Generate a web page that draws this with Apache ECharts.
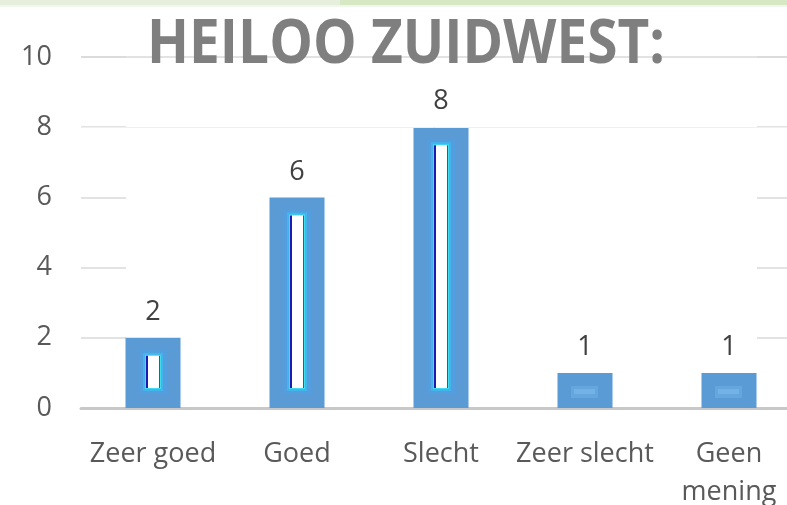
<!DOCTYPE html>
<html>
<head>
<meta charset="utf-8">
<script src="https://cdn.jsdelivr.net/npm/echarts@6/dist/echarts.min.js"></script>
<style>
html,body{margin:0;padding:0;background:#fff;}
#c{width:787px;height:505px;}
</style>
</head>
<body>
<div id="c"></div>
<script>
const titleText = 'HEILOO ZUIDWEST:';
const categories = ['Zeer goed', 'Goed', 'Slecht', 'Zeer slecht', 'Geen\nmening'];
const values = [2, 6, 8, 1, 1];
const yMin = 0, yMax = 10, yStep = 2;

const chart = echarts.init(document.getElementById('c'), null, {renderer: 'canvas'});

// measure title to fit target width
const mc = document.createElement('canvas').getContext('2d');
mc.font = 'bold 60px "Open Sans"';
const tw = mc.measureText(titleText).width;
const titleScale = 518 / tw;

function renderItem(params, api) {
  const i = api.value(0), v = api.value(1);
  const top = api.coord([i, v]);
  const base = api.coord([i, 0]);
  const cx = top[0];
  if (v >= 2) {
    const t = top[1] + 18, b = base[1] - 20;
    const hh = b - t;
    return {type: 'group', children: [
      {type: 'rect', shape: {x: cx - 14, y: t - 6, width: 28, height: hh + 12}, style: {fill: 'rgba(75,160,230,0.55)'}},
      {type: 'rect', shape: {x: cx - 10, y: t - 3, width: 20, height: hh + 6}, style: {fill: '#45b4ec'}},
      {type: 'rect', shape: {x: cx - 8, y: t - 1, width: 16, height: hh + 2}, style: {fill: '#3fdcf4'}},
      {type: 'rect', shape: {x: cx - 7, y: t, width: 14, height: hh}, style: {fill: '#ffffff'}},
      {type: 'rect', shape: {x: cx - 7, y: t, width: 2, height: hh}, style: {fill: '#1c1cb4'}},
      {type: 'rect', shape: {x: cx + 6, y: t, width: 1, height: hh}, style: {fill: '#1f6a78'}}
    ]};
  }
  const yb = base[1];
  return {type: 'group', children: [
    {type: 'rect', shape: {x: cx - 14, y: yb - 22, width: 27, height: 12}, style: {fill: 'rgba(110,175,232,0.55)'}},
    {type: 'rect', shape: {x: cx - 11, y: yb - 19, width: 21, height: 5}, style: {fill: 'rgba(130,190,240,0.5)'}}
  ]};
}

const gridGrad = new echarts.graphic.LinearGradient(81, 0, 787, 0, [
  {offset: 0, color: '#d9d9d9'},
  {offset: 0.0637, color: '#d9d9d9'},
  {offset: 0.0638, color: 'rgba(255,255,255,0)'},
  {offset: 0.9574, color: 'rgba(255,255,255,0)'},
  {offset: 0.9575, color: '#d9d9d9'},
  {offset: 1, color: '#d9d9d9'}
], true);

chart.setOption({
  animation: false,
  backgroundColor: '#ffffff',
  textStyle: {fontFamily: '"Open Sans", sans-serif'},
  grid: {left: 81, top: 57, bottom: 97, width: 720, containLabel: false, outerBoundsMode: 'none'},
  xAxis: {
    type: 'category',
    data: categories,
    axisLine: {show: true, lineStyle: {color: '#c8c8c8', width: 3}},
    axisTick: {show: false},
    axisLabel: {color: '#595959', fontSize: 27, margin: 27, lineHeight: 38, interval: 0, fontFamily: '"Open Sans"'},
    splitLine: {show: false}
  },
  yAxis: {
    type: 'value',
    min: yMin, max: yMax, interval: yStep,
    axisLine: {show: false},
    axisTick: {show: false},
    axisLabel: {color: '#595959', fontSize: 27, margin: 29, fontFamily: '"Open Sans"'},
    splitLine: {show: true, lineStyle: {color: gridGrad, width: 1.5}}
  },
  graphic: [
    {type: 'rect', shape: {x: 0, y: 0, width: 340, height: 5}, style: {fill: '#e5efdb'}, z: 100},
    {type: 'rect', shape: {x: 340, y: 0, width: 447, height: 5}, style: {fill: '#d7e8c4'}, z: 100},
    {type: 'rect', shape: {x: 0, y: 5, width: 787, height: 2}, style: {fill: '#f2f7ee'}, z: 100},
    {
      type: 'text', x: 406, y: 46, scaleX: titleScale, z: 100,
      style: {text: titleText, fill: '#7f7f7f', fontSize: 60, fontWeight: 'bold', fontFamily: '"Open Sans"', align: 'center', verticalAlign: 'middle'}
    }
  ],
  series: [
    {
      type: 'line', data: [], z: 1, silent: true,
      markLine: {silent: true, symbol: 'none', label: {show: false},
        data: [
          {yAxis: 10, lineStyle: {color: '#d9d9d9', width: 1.5, type: 'solid'}},
          {yAxis: 8, lineStyle: {color: '#f0f0f0', width: 1, type: 'solid'}}
        ]}
    },
    {
      type: 'bar', data: values, barWidth: 55, z: 2,
      itemStyle: {color: '#5b9bd5'},
      label: {show: true, position: 'top', distance: 12, color: '#404040', fontSize: 27, fontFamily: '"Open Sans"'}
    },
    {
      type: 'custom', z: 3, silent: true,
      data: values.map((v, i) => [i, v]),
      encode: {x: 0, y: 1},
      renderItem: renderItem
    }
  ]
});
</script>
</body>
</html>
